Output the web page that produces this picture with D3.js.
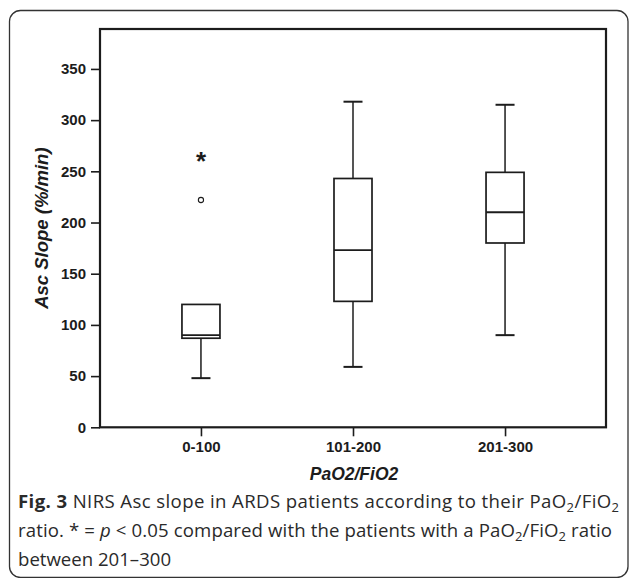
<!DOCTYPE html>
<html>
<head>
<meta charset="utf-8">
<script src="https://cdn.jsdelivr.net/npm/d3@7"></script>
<style>
  html, body { margin: 0; padding: 0; background: #fff; }
  svg { display: block; }
</style>
</head>
<body>
<script>
// ---- data ----
const categories = ["0-100", "101-200", "201-300"];
const whiskerLow  = [48, 59, 90];
const q1          = [87, 123, 180];
const median      = [90, 173, 210];
const q3          = [120, 243, 249];
const whiskerHigh = [120, 318, 315];
const outliers = [{ cat: "0-100", value: 222 }];
const sigMarks = [{ cat: "0-100", value: 266, label: "*" }];
const yTicks = [0, 50, 100, 150, 200, 250, 300, 350];
const yMax = 389;
const xTitle = "PaO2/FiO2";
const yTitle = "Asc Slope (%/min)";

// ---- layout ----
const W = 629, H = 578;
const plot = { left: 100, right: 606, top: 29, bottom: 427.3 };
const ink = "#1c1c1c";

const svg = d3.select("body").append("svg").attr("width", W).attr("height", H);

// outer rounded frame
svg.append("rect")
  .attr("x", 9.5).attr("y", 10.5)
  .attr("width", 618.5).attr("height", 567)
  .attr("rx", 11).attr("ry", 11)
  .attr("fill", "none").attr("stroke", "#333").attr("stroke-width", 1.3);

const x = d3.scalePoint().domain(categories).range([plot.left, plot.right]).padding(0.664);
const y = d3.scaleLinear().domain([0, yMax]).range([plot.bottom, plot.top]);
const boxW = x.step() * 0.25;
const capW = boxW / 2;

const axisFont = "'Liberation Sans', Arial, sans-serif";

// y axis
const yAxis = svg.append("g")
  .attr("transform", `translate(${plot.left},0)`)
  .call(d3.axisLeft(y).tickValues(yTicks).tickSize(9).tickPadding(5));
yAxis.select(".domain").remove();
yAxis.selectAll(".tick line").attr("stroke", ink).attr("stroke-width", 1.6);
yAxis.selectAll(".tick text")
  .attr("fill", ink)
  .style("font-family", axisFont)
  .style("font-size", "15px").style("font-weight", "bold");

// x axis
const xAxis = svg.append("g")
  .attr("transform", `translate(0,${plot.bottom})`)
  .call(d3.axisBottom(x).tickSize(9).tickPadding(5));
xAxis.select(".domain").remove();
xAxis.selectAll(".tick line").attr("stroke", ink).attr("stroke-width", 1.6);
xAxis.selectAll(".tick text")
  .attr("fill", ink)
  .style("font-family", axisFont)
  .style("font-size", "15px").style("font-weight", "bold");

// plot frame
svg.append("rect")
  .attr("x", plot.left).attr("y", plot.top)
  .attr("width", plot.right - plot.left).attr("height", plot.bottom - plot.top)
  .attr("fill", "none").attr("stroke", ink).attr("stroke-width", 2.2);

// boxes
const rows = categories.map((c, i) => ({
  cat: c, lo: whiskerLow[i], q1: q1[i], med: median[i], q3: q3[i], hi: whiskerHigh[i]
}));
const g = svg.append("g").attr("stroke", ink).attr("fill", "none");
rows.forEach(d => {
  const cx = x(d.cat);
  if (d.lo < d.q1) {
    g.append("line").attr("x1", cx).attr("x2", cx).attr("y1", y(d.q1)).attr("y2", y(d.lo)).attr("stroke-width", 1.5);
    g.append("line").attr("x1", cx - capW / 2).attr("x2", cx + capW / 2).attr("y1", y(d.lo)).attr("y2", y(d.lo)).attr("stroke-width", 2);
  }
  if (d.hi > d.q3) {
    g.append("line").attr("x1", cx).attr("x2", cx).attr("y1", y(d.q3)).attr("y2", y(d.hi)).attr("stroke-width", 1.5);
    g.append("line").attr("x1", cx - capW / 2).attr("x2", cx + capW / 2).attr("y1", y(d.hi)).attr("y2", y(d.hi)).attr("stroke-width", 2);
  }
  g.append("rect")
    .attr("x", cx - boxW / 2).attr("y", y(d.q3))
    .attr("width", boxW).attr("height", y(d.q1) - y(d.q3))
    .attr("fill", "#fff").attr("stroke-width", 1.7);
  g.append("line").attr("x1", cx - boxW / 2).attr("x2", cx + boxW / 2)
    .attr("y1", y(d.med)).attr("y2", y(d.med)).attr("stroke-width", 1.9);
});

// outliers
svg.selectAll("circle.out").data(outliers).enter().append("circle")
  .attr("class", "out")
  .attr("cx", d => x(d.cat)).attr("cy", d => y(d.value)).attr("r", 2.6)
  .attr("fill", "#fff").attr("stroke", ink).attr("stroke-width", 1.1);

// significance marks
svg.selectAll("text.sig").data(sigMarks).enter().append("text")
  .attr("class", "sig")
  .attr("x", d => x(d.cat)).attr("y", d => y(d.value) + 15)
  .attr("text-anchor", "middle")
  .attr("fill", ink)
  .style("font-family", axisFont)
  .style("font-size", "26px").style("font-weight", "bold")
  .text(d => d.label);

// axis titles
svg.append("text")
  .attr("x", (plot.left + plot.right) / 2 + 1).attr("y", 480)
  .attr("text-anchor", "middle").attr("fill", ink)
  .style("font-family", axisFont)
  .style("font-size", "17.5px").style("font-weight", "bold").style("font-style", "italic")
  .text(xTitle);

svg.append("text")
  .attr("transform", `translate(48,${(plot.top + plot.bottom) / 2}) rotate(-90)`)
  .attr("text-anchor", "middle").attr("fill", ink)
  .style("font-family", axisFont)
  .style("font-size", "18.5px").style("font-weight", "bold").style("font-style", "italic")
  .text(yTitle);

// caption
const cap = svg.append("g")
  .style("font-family", "'Open Sans', 'Noto Sans', sans-serif")
  .style("font-size", "18.6px").attr("fill", "#2a2a2a");

function sub(t, s) { t.append("tspan").attr("dy", 4).style("font-size", "13px").text(s); }

const l1 = cap.append("text").attr("x", 18).attr("y", 508)
  .attr("textLength", 601).attr("lengthAdjust", "spacing");
l1.append("tspan").style("font-weight", "bold").text("Fig. 3");
l1.append("tspan").text(" NIRS Asc slope in ARDS patients according to their PaO");
sub(l1, "2");
l1.append("tspan").attr("dy", -4).text("/FiO");
sub(l1, "2");

const l2 = cap.append("text").attr("x", 18).attr("y", 537)
  .attr("textLength", 594).attr("lengthAdjust", "spacing");
l2.append("tspan").text("ratio. * = ");
l2.append("tspan").style("font-style", "italic").text("p");
l2.append("tspan").text(" < 0.05 compared with the patients with a PaO");
sub(l2, "2");
l2.append("tspan").attr("dy", -4).text("/FiO");
sub(l2, "2");
l2.append("tspan").attr("dy", -4).text(" ratio");

cap.append("text").attr("x", 18).attr("y", 566).text("between 201\u2013300");
</script>
</body>
</html>
